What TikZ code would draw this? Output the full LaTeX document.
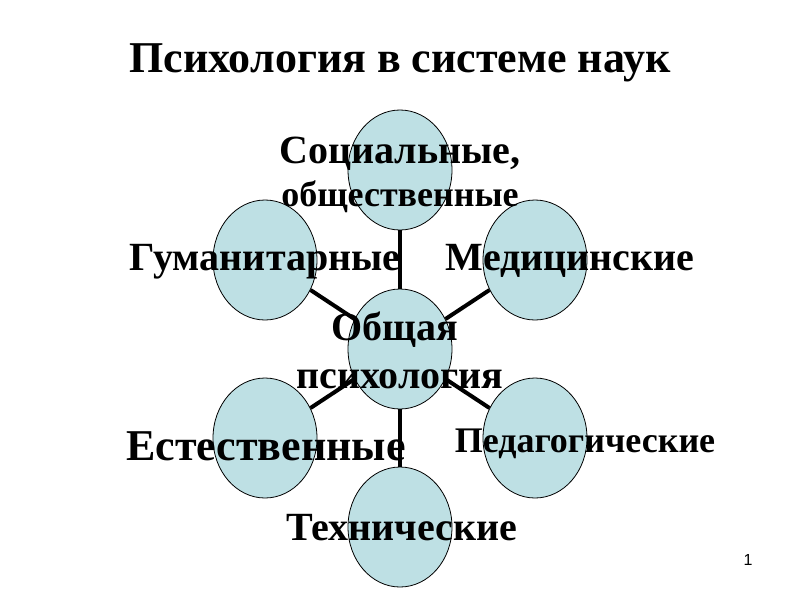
\documentclass[tikz,border=0pt]{standalone}
\usepackage{fontspec}
\setmainfont{Liberation Serif}
\newfontfamily\numfont{Liberation Sans}
\usetikzlibrary{shapes.geometric}
\definecolor{bubblefill}{RGB}{190,224,228}

\begin{document}
\begin{tikzpicture}[x=1pt,y=-1pt,
  bubble/.style={ellipse,draw,line width=0.8pt,fill=bubblefill,
    minimum width=104pt,minimum height=120pt,inner sep=0pt},
  link/.style={line width=4pt},
  lbl/.style={anchor=base,inner sep=0pt,font=\bfseries\fontsize{40}{48}\selectfont}]
\useasboundingbox (0,0) rectangle (800,600);

% ellipses
\node [bubble] (core) at (400,349) {};
\node [bubble] (social) at (400,170) {};
\node [bubble] (human) at (265,260) {};
\node [bubble] (medic) at (535,260) {};
\node [bubble] (natur) at (265,438) {};
\node [bubble] (pedag) at (535,438) {};
\node [bubble] (techn) at (400,527) {};

% links
\draw [link] (core) -- (social);
\draw [link] (core) -- (human);
\draw [link] (core) -- (medic);
\draw [link] (core) -- (natur);
\draw [link] (core) -- (pedag);
\draw [link] (core) -- (techn);

% texts
\node [lbl,font=\bfseries\fontsize{44}{52}\selectfont] (title) at (400,72) {Психология в системе наук};
\node [lbl] (social-a) at (400,163) {Социальные,};
\node [lbl,font=\bfseries\fontsize{36}{42}\selectfont] (social-b) at (400,206) {общественные};
\node [lbl] (human-t) at (265,270) {Гуманитарные};
\node [lbl] (medic-t) at (570,270) {Медицинские};
\node [lbl] (core-a) at (395,340) {Общая};
\node [lbl] (core-b) at (400,388) {психология};
\node [lbl,font=\bfseries\fontsize{44}{52}\selectfont] (natur-t) at (266,460) {Естественные};
\node [lbl,font=\bfseries\fontsize{36}{42}\selectfont] (pedag-t) at (585,452) {Педагогические};
\node [lbl] (techn-t) at (402,540) {Технические};
\node [anchor=base,inner sep=0pt,font=\numfont\fontsize{16}{18}\selectfont] (page) at (748,565) {1};

\end{tikzpicture}
\end{document}
